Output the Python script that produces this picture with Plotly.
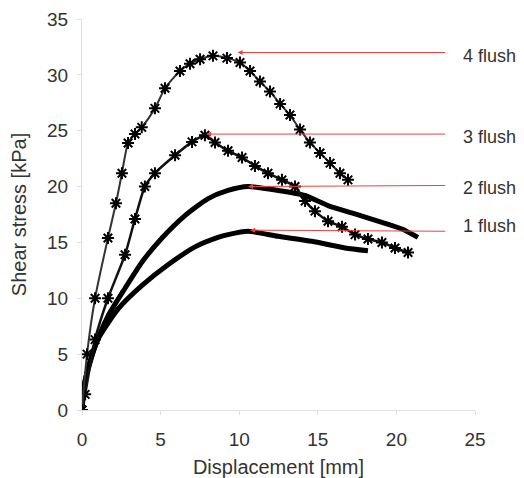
import plotly.graph_objects as go

# Readings (displacement mm, shear stress kPa)
f1_x = [0, 0.05, 0.4, 1.0, 2.3, 3.82, 5.47, 7.19, 8.65, 9.29, 10.56, 12.47, 14.63, 16.73, 18.19]
f1_y = [0, 1.4, 3.8, 6.3, 9.05, 11.15, 13.0, 14.6, 15.45, 15.7, 16.0, 15.55, 15.1, 14.5, 14.25]

f2_x = [0, 0.2, 0.83, 1.65, 2.74, 3.82, 5.09, 6.55, 8.0, 9.29, 10.56, 12.47, 14.19, 15.65, 17.37, 19.08, 20.36, 21.37]
f2_y = [0, 2.65, 5.67, 8.4, 10.9, 13.25, 15.4, 17.4, 18.9, 19.65, 20.0, 19.65, 19.2, 18.3, 17.55, 16.8, 16.2, 15.45]

f3_x = [0, 0.2, 0.83, 1.65, 2.74, 3.37, 4.0, 4.64, 5.92, 7.0, 7.82, 8.46, 9.29, 10.18, 11.0, 11.83, 12.72, 13.55,
        14.19, 14.82, 15.65, 16.54, 17.37, 18.19, 19.08, 19.91, 20.74]
f3_y = [0, 1.4, 6.3, 10.0, 13.9, 17.1, 20.0, 21.2, 22.8, 24.0, 24.6, 23.95, 23.2, 22.6, 21.85, 21.2, 20.6, 20.0,
        18.7, 17.8, 16.9, 16.4, 15.7, 15.3, 15.0, 14.5, 14.1]

f4_x = [0, 0.32, 0.83, 1.65, 2.16, 2.54, 2.93, 3.37, 3.8, 4.64, 5.28, 6.23, 6.87, 7.51, 8.33, 9.22, 10.05, 10.69,
        11.32, 11.96, 12.6, 13.23, 13.87, 14.5, 15.14, 15.78, 16.41, 16.92]
f4_y = [0, 5.0, 10.0, 15.4, 18.5, 21.2, 23.9, 24.7, 25.3, 27.0, 28.8, 30.35, 31.0, 31.4, 31.7, 31.5, 31.1, 30.35,
        29.4, 28.5, 27.4, 26.4, 25.1, 23.95, 23.0, 22.1, 21.2, 20.6]

labels = ["1 flush", "2 flush", "3 flush", "4 flush"]
label_y = [16.0, 20.1, 24.7, 32.0]
head_x = [10.7, 10.56, 7.9, 9.9]
head_y = [16.1, 20.0, 24.7, 32.0]
tail_x = 23.2

FONT = "Liberation Sans, Arial"

fig = go.Figure()
fig.add_trace(go.Scatter(x=f1_x, y=f1_y, mode="lines", line=dict(color="black", width=5, shape="spline", smoothing=0.6), showlegend=False))
fig.add_trace(go.Scatter(x=f2_x, y=f2_y, mode="lines", line=dict(color="black", width=5, shape="spline", smoothing=0.6), showlegend=False))
fig.add_trace(go.Scatter(x=f3_x, y=f3_y, mode="lines+markers", line=dict(color="#111", width=2.5, shape="spline", smoothing=0.6),
                         marker=dict(symbol="asterisk-open", size=10, color="black", line=dict(width=2, color="#111")), showlegend=False))
fig.add_trace(go.Scatter(x=f4_x, y=f4_y, mode="lines+markers", line=dict(color="#333", width=2, shape="spline", smoothing=0.6),
                         marker=dict(symbol="asterisk-open", size=10, color="black", line=dict(width=2, color="#222")), showlegend=False))

offsets = [-5, 3, 3, 3]
for lab, ly, hx, hy, off in zip(labels, label_y, head_x, head_y, offsets):
    fig.add_annotation(x=hx, y=hy, ax=tail_x, ay=ly, xref="x", yref="y", axref="x", ayref="y",
                       showarrow=True, arrowhead=2, arrowsize=1, arrowwidth=1, arrowcolor="#f04040", text="")
    fig.add_annotation(x=1.0, y=ly, xref="paper", yref="y", xanchor="left", yanchor="middle",
                       xshift=-14, yshift=-off, text=lab, showarrow=False,
                       font=dict(family=FONT, size=18, color="#333"))

axis_common = dict(showgrid=False, zeroline=False, showline=True, linecolor="#e0e0e0", linewidth=1,
                   ticks="outside", ticklen=4, tickcolor="#e0e0e0", automargin=False,
                   tickfont=dict(family=FONT, size=19, color="#333"))
fig.update_xaxes(range=[0, 25], dtick=5, ticklabelstandoff=8,
                 title=dict(text="Displacement [mm]", standoff=17, font=dict(family=FONT, size=20, color="#333")), **axis_common)
fig.update_yaxes(range=[0, 35], dtick=5, ticklabelstandoff=5,
                 title=dict(text="Shear stress [kPa]", standoff=15, font=dict(family=FONT, size=20, color="#333")), **axis_common)

# the page body adds an 8 px offset, so the figure is sized to fit the window
fig.update_layout(width=516, height=470, margin=dict(l=74, r=49, t=11, b=68),
                  plot_bgcolor="white", paper_bgcolor="white")
fig.write_html("out.html")
